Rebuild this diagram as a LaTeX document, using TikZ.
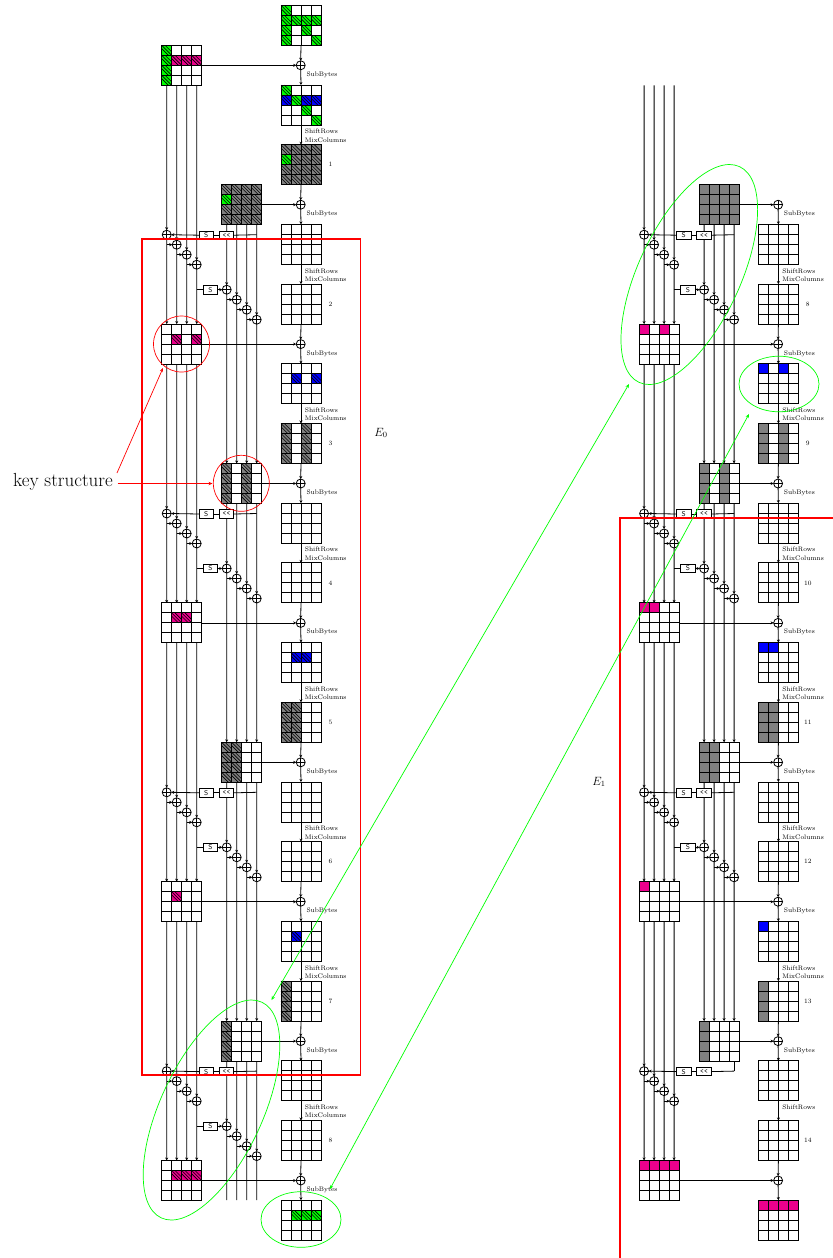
\documentclass[tikz,border=0pt]{standalone}
\usetikzlibrary{arrows.meta,shapes.geometric,calc}
\definecolor{cgreen}{RGB}{0,255,0}
\definecolor{cpink}{RGB}{236,0,140}
\definecolor{cblue}{RGB}{0,0,255}
\definecolor{cgray}{RGB}{128,128,128}
\definecolor{cred}{RGB}{255,0,0}
\tikzset{
  wire/.style={line width=0.8bp,black},
  arr/.style={wire,-{Stealth[length=3bp,width=3bp]}},
  gridbox/.style={draw,line width=0.9bp,minimum size=40bp,inner sep=0pt,outer sep=0pt},
  ghost/.style={minimum size=40bp,inner sep=0pt,outer sep=0pt},
  gridline/.style={line width=0.9bp,black},
  hatchline/.style={line width=0.6bp,black},
  xorgate/.style={circle,draw,line width=0.8bp,minimum size=9bp,inner sep=0pt,outer sep=0pt,
    path picture={\draw[line width=0.8bp] (path picture bounding box.north)--(path picture bounding box.south)
      (path picture bounding box.west)--(path picture bounding box.east);}},
  opbox/.style={draw,fill=white,line width=0.8bp,minimum width=14.4bp,minimum height=8.4bp,inner sep=0pt,outer sep=0pt,
    font=\sffamily\fontsize{7}{7}\selectfont},
  lab/.style={anchor=west,inner sep=0pt,font=\fontsize{6.6}{8}\selectfont},
  numlab/.style={inner sep=0pt,font=\fontsize{6.6}{8}\selectfont},
  redframe/.style={cred,line width=1.8bp},
  redcirc/.style={circle,draw=cred,line width=0.7bp,minimum size=56bp,inner sep=0pt},
  redarrow/.style={cred,line width=0.7bp,-{Stealth[length=4bp,width=3.4bp]}},
  greenring/.style={ellipse,draw=cgreen,line width=0.7bp,inner sep=0pt},
  greenarrow/.style={cgreen,line width=0.7bp,{Stealth[length=4bp,width=3.4bp]}-{Stealth[length=4bp,width=3.4bp]}},
}
\newcommand\fillcells[3]{\foreach \cc/\rr/\kk in {#3}{\fill[\kk] ({#1+10*\cc},{#2+10*\rr}) rectangle +(10,10);}}
\newcommand\hatchcells[3]{\foreach \cc/\rr/\kk in {#3}{
  \fill[\kk] ({#1+10*\cc},{#2+10*\rr}) rectangle +(10,10);
  \draw[hatchline] ({#1+10*\cc},{#2+10*\rr}) -- +(10,10)
    ({#1+10*\cc},{#2+10*\rr+3.3}) -- +(6.7,6.7)
    ({#1+10*\cc+3.3},{#2+10*\rr}) -- +(6.7,6.7);}}
\newcommand\gridnode[3]{%
  \node[gridbox] (#1) at (#2,#3) {};
  \foreach \t in {10,20,30}{
    \draw[gridline] (#1.north west) ++(\t,0) -- ++(0,40);
    \draw[gridline] (#1.north west) ++(0,\t) -- ++(40,0);
  }}
\newif\ifrightpanel
% #1 prefix, #2 dx, #3 first A, #4 first B/K/X, #5 number offset, #6 last SubBytes, #7 last Shift+Mix
\newcommand\panel[7]{%
  \foreach \i in {#3,...,8}{
    \pgfmathsetmacro\yy{25.3+139.4*\i}
    \pgfmathsetmacro\xx{301+#2}
    \gridnode{#1A\i}{\xx}{\yy}
    \ifnum\i>0
      \pgfmathtruncatemacro\nn{\i+#5}
      \pgfmathsetmacro\nx{330.4+#2}
      \node[numlab] (#1N\i) at (\nx,\yy) {\nn};
    \fi
  }
  \foreach \i in {#4,...,8}{
    \pgfmathsetmacro\yy{105+139.4*\i}
    \pgfmathsetmacro\xx{301+#2}
    \gridnode{#1B\i}{\xx}{\yy}
    \pgfmathtruncatemacro\mm{mod(\i,2)}
    \pgfmathsetmacro\cx{181.7+60*\mm+#2}
    \pgfmathsetmacro\ky{65.3+139.4*\i}
    \gridnode{#1K\i}{\cx}{\ky}
    \pgfmathsetmacro\xx{300.7+#2}
    \node[xorgate] (#1X\i) at (\xx,\ky) {};
    \draw[arr] (#1K\i.east) -- (#1X\i.west);
    \draw[arr] (#1X\i.south) -- (#1B\i.north);
  }
  \foreach \i in {#3,...,8}{\draw[arr] (#1A\i.south) -- (#1X\i.north);}
  \foreach \i in {#4,...,7}{
    \pgfmathtruncatemacro\q{\i+1}
    \draw[arr] (#1B\i.south) -- (#1A\q.north);
  }
  \foreach \i in {#4,...,#6}{
    \pgfmathsetmacro\yy{74.7+139.4*\i}
    \pgfmathsetmacro\xx{306.3+#2}
    \node[lab] (#1Sb\i) at (\xx,\yy) {SubBytes};
  }
  \foreach \i in {#4,...,#7}{
    \pgfmathsetmacro\yy{131.4+139.4*\i}
    \pgfmathsetmacro\yz{139.8+139.4*\i}
    \pgfmathsetmacro\xx{304.7+#2}
    \node[lab] (#1Sr\i) at (\xx,\yy) {ShiftRows};
    \node[lab] (#1Mc\i) at (\xx,\yz) {MixColumns};
  }
  % key schedule
  \foreach \i in {1,3,5,7}{
    \pgfmathtruncatemacro\p{\i-1}
    \pgfmathtruncatemacro\q{\i+1}
    \pgfmathtruncatemacro\u{\i+2}
    \pgfmathsetmacro\ky{234.7+139.4*(\i-1)}
    \pgfmathtruncatemacro\showb{\ifrightpanel\i<7\else 1\fi}
    \foreach \j/\o in {1/-15,2/-5,3/5,4/15}{
      \pgfmathsetmacro\ax{181.7+\o+#2}
      \pgfmathsetmacro\ay{\ky+10*(\j-1)}
      \node[xorgate] (#1a\i x\j) at (\ax,\ay) {};
      \draw[arr] ([xshift=\o bp]#1K\p.south) -- (#1a\i x\j.north);
      \draw[arr] (#1a\i x\j.south) -- ([xshift=\o bp]#1K\q.north);
    }
    \coordinate (#1c\i) at ([xshift=15bp]#1K\i.south |- #1a\i x1);
    \ifnum\showb>0
      \foreach \j/\o in {1/-15,2/-5,3/5,4/15}{
        \pgfmathsetmacro\bx{241.7+\o+#2}
        \pgfmathsetmacro\by{\ky+55+10*(\j-1)}
        \node[xorgate] (#1b\i x\j) at (\bx,\by) {};
        \draw[arr] ([xshift=\o bp]#1K\i.south) -- (#1b\i x\j.north);
        \ifnum\i=7
          \draw[wire] (#1b\i x\j.south) -- ([xshift=\o bp]#1K\u.north);
        \else
          \draw[arr] (#1b\i x\j.south) -- ([xshift=\o bp]#1K\u.north);
        \fi
      }
      \pgfmathsetmacro\sx{210.5+#2}
      \pgfmathsetmacro\sy{\ky+55}
      \node[opbox] (#1t\i) at (\sx,\sy) {S};
      \draw[wire] (#1a\i x4 |- #1t\i) -- (#1t\i.west);
      \draw[arr] (#1t\i.east) -- (#1b\i x1.west);
      \draw[arr] (#1b\i x1 |- #1b\i x2) -- (#1b\i x2.west);
      \draw[arr] (#1b\i x2 |- #1b\i x3) -- (#1b\i x3.west);
      \draw[arr] (#1b\i x3 |- #1b\i x4) -- (#1b\i x4.west);
    \else
      \draw[wire] ([xshift=15bp]#1K\i.south) -- (#1c\i);
    \fi
    \pgfmathsetmacro\sx{206.3+#2}
    \pgfmathsetmacro\lx{226.5+#2}
    \pgfmathsetmacro\sy{\ky+0.5}
    \node[opbox] (#1s\i) at (\sx,\sy) {S};
    \node[opbox] (#1l\i) at (\lx,\sy) {\texttt{<}\kern0.4pt\texttt{<}};
    \draw[wire] (#1c\i) -- (#1l\i.east);
    \draw[wire] (#1l\i.west) -- (#1s\i.east);
    \draw[arr] (#1s\i.west) -- (#1a\i x1.east);
    \draw[arr] (#1a\i x1 |- #1a\i x2) -- (#1a\i x2.west);
    \draw[arr] (#1a\i x2 |- #1a\i x3) -- (#1a\i x3.west);
    \draw[arr] (#1a\i x3 |- #1a\i x4) -- (#1a\i x4.west);
  }
}
\begin{document}
\begin{tikzpicture}[x=1bp,y=-1bp]
\useasboundingbox[fill=white] (0,0) rectangle (833,1258);
% --- cell contents, left panel (hatched)
\hatchcells{281}{5.3}{0/0/cgreen,0/1/cgreen,1/1/cgreen,2/1/cgreen,3/1/cgreen,0/2/cgreen,2/2/cgreen,0/3/cgreen,3/3/cgreen}
\hatchcells{161.7}{45.3}{0/0/cgreen,0/1/cgreen,0/2/cgreen,0/3/cgreen,1/1/cpink,2/1/cpink,3/1/cpink}
\hatchcells{281}{85}{0/0/cgreen,0/1/cblue,1/1/cgreen,2/1/cblue,3/1/cblue,2/2/cgreen,3/3/cgreen}
\foreach \xc/\yc in {281/144.7,221.7/184.7}{
  \hatchcells{\xc}{\yc}{0/0/cgray,1/0/cgray,2/0/cgray,3/0/cgray,0/1/cgreen,1/1/cgray,2/1/cgray,3/1/cgray,0/2/cgray,1/2/cgray,2/2/cgray,3/2/cgray,0/3/cgray,1/3/cgray,2/3/cgray,3/3/cgray}
}
\hatchcells{161.7}{324.1}{1/1/cpink,3/1/cpink}
\hatchcells{281}{363.8}{1/1/cblue,3/1/cblue}
\foreach \xc/\yc in {281/423.5,221.7/463.5}{\hatchcells{\xc}{\yc}{0/0/cgray,0/1/cgray,0/2/cgray,0/3/cgray,2/0/cgray,2/1/cgray,2/2/cgray,2/3/cgray}}
\hatchcells{161.7}{602.9}{1/1/cpink,2/1/cpink}
\hatchcells{281}{642.6}{1/1/cblue,2/1/cblue}
\foreach \xc/\yc in {281/702.3,221.7/742.3}{\hatchcells{\xc}{\yc}{0/0/cgray,0/1/cgray,0/2/cgray,0/3/cgray,1/0/cgray,1/1/cgray,1/2/cgray,1/3/cgray}}
\hatchcells{161.7}{881.7}{1/1/cpink}
\hatchcells{281}{921.4}{1/1/cblue}
\foreach \xc/\yc in {281/981.1,221.7/1021.1}{\hatchcells{\xc}{\yc}{0/0/cgray,0/1/cgray,0/2/cgray,0/3/cgray}}
\hatchcells{161.7}{1160.5}{1/1/cpink,2/1/cpink,3/1/cpink}
\hatchcells{281}{1200.2}{1/1/cgreen,2/1/cgreen,3/1/cgreen}
% --- cell contents, right panel (plain)
\fill[cgray] (699.1,184.7) rectangle +(40,40);
\fillcells{639.1}{324.1}{0/0/cpink,2/0/cpink}
\fillcells{758.4}{363.8}{0/0/cblue,2/0/cblue}
\foreach \xc/\yc in {758.4/423.5,699.1/463.5}{\fillcells{\xc}{\yc}{0/0/cgray,0/1/cgray,0/2/cgray,0/3/cgray,2/0/cgray,2/1/cgray,2/2/cgray,2/3/cgray}}
\fillcells{639.1}{602.9}{0/0/cpink,1/0/cpink}
\fillcells{758.4}{642.6}{0/0/cblue,1/0/cblue}
\foreach \xc/\yc in {758.4/702.3,699.1/742.3}{\fillcells{\xc}{\yc}{0/0/cgray,0/1/cgray,0/2/cgray,0/3/cgray,1/0/cgray,1/1/cgray,1/2/cgray,1/3/cgray}}
\fillcells{639.1}{881.7}{0/0/cpink}
\fillcells{758.4}{921.4}{0/0/cblue}
\foreach \xc/\yc in {758.4/981.1,699.1/1021.1}{\fillcells{\xc}{\yc}{0/0/cgray,0/1/cgray,0/2/cgray,0/3/cgray}}
\fillcells{639.1}{1160.5}{0/0/cpink,1/0/cpink,2/0/cpink,3/0/cpink}
\fillcells{758.4}{1200.2}{0/0/cpink,1/0/cpink,2/0/cpink,3/0/cpink}
% --- panels
\node[ghost] (LK9) at (241.7,1220) {};
\rightpanelfalse
\panel{L}{0}{0}{0}{0}{8}{7}
\node[ghost] (RK0) at (659.1,65.3) {};
\node[ghost] (RK9) at (719.1,1220) {};
\rightpaneltrue
\panel{R}{477.4}{2}{1}{6}{7}{6}
\node[lab] (RSr7) at (782.1,1106.8) {ShiftRows};
% --- annotations
\draw[redframe] (141.8,239.3) rectangle (360.5,1075.3);
\draw[redframe] (833,518) -- (619.8,518) -- (619.8,1258);
\node[inner sep=0pt,font=\fontsize{11.5}{12}\selectfont] (E0) at (381,433) {$E_0$};
\node[inner sep=0pt,font=\fontsize{11.5}{12}\selectfont] (E1) at (599,782) {$E_1$};
\node[redcirc] (c1) at (181.5,344) {};
\node[redcirc] (c2) at (241.3,483.3) {};
\node[inner sep=0pt,anchor=east,font=\fontsize{19}{22}\selectfont] (ks) at (113,482) {key structure};
\coordinate (k1) at (117,473);
\coordinate (k2) at (117.5,483.5);
\coordinate (t1) at (163,368);
\coordinate (t2) at (212.5,483.5);
\draw[redarrow] (k1) -- (t1);
\draw[redarrow] (k2) -- (t2);
\node[greenring,minimum width=238bp,minimum height=102bp,rotate=65] (g1) at (211.5,1110) {};
\node[greenring,minimum width=238bp,minimum height=102bp,rotate=65] (g2) at (689.3,274.5) {};
\node[greenring,minimum width=80bp,minimum height=55.6bp] (g3) at (301,1219.5) {};
\node[greenring,minimum width=80bp,minimum height=55.6bp] (g4) at (779,384) {};
\coordinate (a1) at (271.5,1000);
\coordinate (a2) at (629,384);
\coordinate (a3) at (330,1189);
\coordinate (a4) at (749,414);
\draw[greenarrow] (a1) -- (a2);
\draw[greenarrow] (a3) -- (a4);
\end{tikzpicture}
\end{document}
